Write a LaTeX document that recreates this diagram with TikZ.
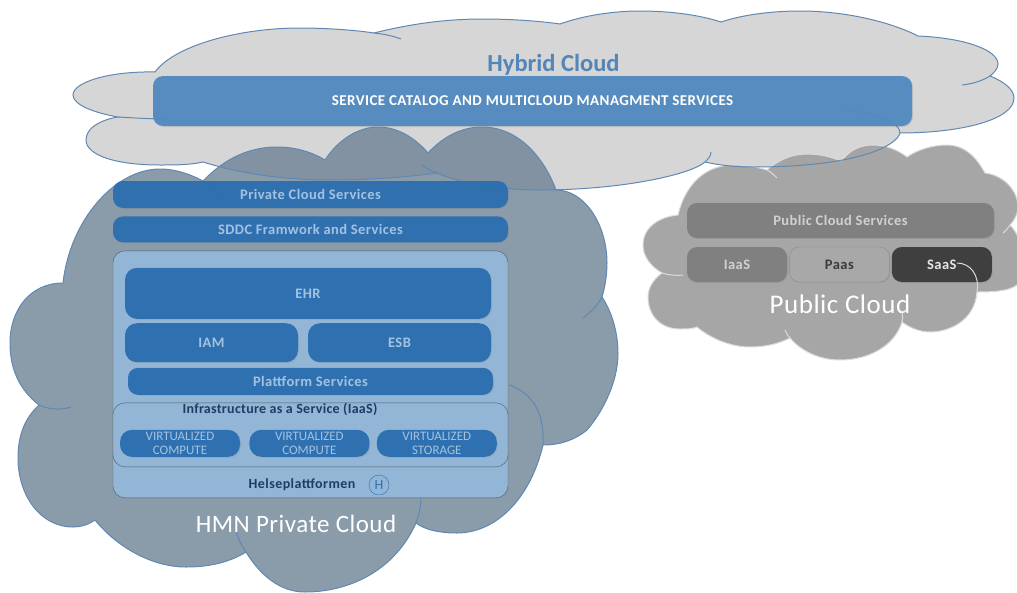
\documentclass[tikz,border=0pt]{standalone}
\usepackage{fontspec}
\setmainfont{Carlito}
\usepackage{tikz}
\usetikzlibrary{positioning,shadows}
\definecolor{hybridfill}{HTML}{d6d6d6}
\definecolor{hybridbar}{HTML}{528abf}
\definecolor{hybridtext}{HTML}{5385b8}
\definecolor{cloudline}{HTML}{5f89b2}
\definecolor{privatefill}{HTML}{6d8295}
\definecolor{privatebar}{HTML}{2c6fb0}
\definecolor{privatetext}{HTML}{a3c2e2}
\definecolor{panel}{HTML}{94b6d6}
\definecolor{paneltext}{HTML}{1f3d63}
\definecolor{publicfill}{HTML}{a3a3a3}
\definecolor{publicline}{HTML}{dcdcdc}
\definecolor{iaasbar}{HTML}{7f7f7f}
\definecolor{paasbar}{HTML}{a9a9a9}
\definecolor{saasbar}{HTML}{3c3c3c}
\newcommand{\spaced}[1]{\addfontfeature{LetterSpace=#1}}
% cloud outlines, in pixels of the picture
\def\hybridoutline{(155,72) .. controls (175,45) and (240,28) .. (300,28) .. controls (325,28) and (355,30) .. (374,33)
  .. controls (410,24) and (445,19) .. (483,19) .. controls (510,19) and (540,21) .. (560,24)
  .. controls (585,15) and (615,11) .. (640,11) .. controls (670,11) and (700,15) .. (721,22)
  .. controls (745,14) and (775,11) .. (800,11) .. controls (850,11) and (895,24) .. (918,36)
  .. controls (965,38) and (998,50) .. (998,64) .. controls (998,68) and (995,72) .. (990,76)
  .. controls (1005,82) and (1014,90) .. (1014,98) .. controls (1014,120) and (960,133) .. (900,133)
  .. controls (897,145) and (860,167) .. (753,167) .. controls (735,167) and (718,165) .. (705,162)
  .. controls (690,175) and (620,190) .. (540,190) .. controls (505,190) and (465,185) .. (437,173)
  .. controls (400,178) and (365,180) .. (327,180) .. controls (280,180) and (235,172) .. (203,162)
  .. controls (190,165) and (175,165) .. (160,165) .. controls (115,165) and (86,155) .. (86,140)
  .. controls (86,128) and (100,120) .. (118,117) .. controls (95,113) and (73,105) .. (73,95)
  .. controls (73,82) and (110,71) .. (155,72) -- cycle}
\def\privateoutline{(63,283) .. controls (70,220) and (115,169) .. (160,169) .. controls (175,169) and (190,174) .. (203,181)
  .. controls (225,158) and (250,147) .. (277,147) .. controls (295,147) and (312,152) .. (325,160)
  .. controls (338,140) and (358,127) .. (378,127) .. controls (398,127) and (415,138) .. (428,153)
  .. controls (442,138) and (460,127) .. (482,127) .. controls (520,127) and (545,160) .. (556,190)
  .. controls (585,190) and (607,225) .. (607,263) .. controls (607,275) and (605,287) .. (602,297)
  .. controls (612,312) and (618,333) .. (618,353) .. controls (618,385) and (600,415) .. (587,430)
  .. controls (575,440) and (560,445) .. (543,445) .. controls (530,500) and (495,533) .. (457,533)
  .. controls (440,533) and (425,530) .. (416,523) .. controls (395,570) and (350,592) .. (305,592)
  .. controls (280,592) and (260,575) .. (246,552) .. controls (230,562) and (210,567) .. (186,567)
  .. controls (150,567) and (115,545) .. (95,520) .. controls (88,525) and (80,527) .. (73,527)
  .. controls (40,527) and (18,495) .. (18,458) .. controls (18,435) and (25,418) .. (39,405)
  .. controls (20,390) and (10,370) .. (10,343) .. controls (10,310) and (30,283) .. (63,283) -- cycle}
\def\publicoutline{(678,215) .. controls (685,185) and (705,165) .. (733,165) .. controls (745,165) and (757,167) .. (767,170)
  .. controls (778,160) and (792,154) .. (807,154) .. controls (820,154) and (832,157) .. (841,161)
  .. controls (850,150) and (860,145) .. (873,145) .. controls (886,145) and (898,150) .. (907,157)
  .. controls (917,150) and (932,145) .. (947,145) .. controls (965,145) and (977,158) .. (985,173)
  .. controls (1003,175) and (1018,190) .. (1018,207) .. controls (1018,213) and (1015,220) .. (1010,225)
  .. controls (1020,235) and (1030,260) .. (1017,285) .. controls (1010,290) and (1000,292) .. (977,292)
  .. controls (975,320) and (950,332) .. (930,332) .. controls (920,332) and (910,328) .. (902,322)
  .. controls (895,345) and (870,360) .. (840,360) .. controls (818,360) and (800,350) .. (790,338)
  .. controls (778,344) and (765,347) .. (750,347) .. controls (730,347) and (710,338) .. (697,327)
  .. controls (692,329) and (686,329) .. (680,329) .. controls (660,329) and (648,315) .. (648,297)
  .. controls (648,287) and (654,279) .. (662,273) .. controls (650,266) and (643,256) .. (643,245)
  .. controls (643,228) and (658,217) .. (678,215) -- cycle}
\begin{document}
\begin{tikzpicture}[x=1pt,y=-1pt,font=\bfseries]
    \tikzstyle{box}=[rounded corners=10pt, inner sep=0pt, align=center, fill opacity=.96, text opacity=1, drop shadow={opacity=.22,shadow xshift=1pt,shadow yshift=-1pt}]
    \tikzstyle{hybridbox}=[box, fill=hybridbar, text=white, font=\bfseries\fontsize{15}{17}\selectfont\spaced{3}]
    \tikzstyle{privatebox}=[box, fill=privatebar, text=privatetext, font=\bfseries\fontsize{14.5}{16}\selectfont\spaced{3}]
    \tikzstyle{virtbox}=[box, fill=privatebar, text=privatetext, rounded corners=12pt, minimum width=120pt, minimum height=27pt, font=\fontsize{13}{14.5}\selectfont]
    \tikzstyle{panelbox}=[rounded corners=12pt, inner sep=0pt, fill=panel, draw=privatefill!70!black, thin]
    \tikzstyle{panellabel}=[inner sep=0pt, text=paneltext, font=\bfseries\fontsize{14}{16}\selectfont\spaced{3}]
    \tikzstyle{publicbox}=[box, text=publicfill!50!white, minimum height=35pt, font=\bfseries\fontsize{14.5}{16}\selectfont\spaced{3}]
    \tikzstyle{title}=[inner sep=0pt, text=white, font=\fontsize{25}{28}\selectfont\spaced{2}]
    \tikzstyle{cloud line}=[draw=cloudline, line width=1pt]
    \tikzstyle{public line}=[draw=publicline, line width=1pt]
    \useasboundingbox (0,0) rectangle (1017,592);

    % Clouds
    \fill[hybridfill] \hybridoutline;
    \fill[publicfill, opacity=.97] \publicoutline;
    \fill[privatefill, fill opacity=.8] \privateoutline;
    \draw[public line] \publicoutline;
    \draw[cloud line] \hybridoutline;
    \draw[cloud line] \privateoutline;

    % overhanging lobe ends
    \draw[cloud line] (374,33) .. controls (384,34) and (393,36) .. (401,39);
    \draw[cloud line] (990,76) .. controls (982,81) and (972,84) .. (962,85);
    \draw[cloud line] (705,162) .. controls (708,159) and (711,156) .. (711,152);
    \draw[cloud line] (437,173) .. controls (431,171) and (426,168) .. (422,165);
    \draw[cloud line] (118,117) .. controls (135,118) and (152,119) .. (168,119);
    \draw[cloud line] (845,110) .. controls (875,113) and (900,122) .. (900,133);
    \draw[cloud line] (203,181) .. controls (210,186) and (216,192) .. (221,198);
    \draw[cloud line] (602,297) .. controls (597,306) and (591,312) .. (583,318);
    \draw[cloud line] (509,385) .. controls (530,392) and (545,410) .. (543,445);
    \draw[cloud line] (416,523) .. controls (419,515) and (421,506) .. (421,497);
    \draw[cloud line] (246,552) .. controls (241,545) and (238,538) .. (236,530);
    \draw[cloud line] (39,405) .. controls (50,410) and (62,410) .. (71,407);
    \draw[public line] (767,170) .. controls (771,172) and (774,175) .. (777,178);
    \draw[public line] (1010,225) .. controls (1008,228) and (1006,231) .. (1003,233);
    \draw[public line] (902,322) .. controls (903,319) and (903,316) .. (902,313);
    \draw[public line] (790,338) .. controls (788,336) and (786,333) .. (785,330);
    \draw[public line] (662,273) .. controls (669,275) and (676,276) .. (683,275);

    % Hybrid
    \node[title, text=hybridtext, font=\bfseries\fontsize{24.5}{28}\selectfont] (hybrid) at (553.5,65) {Hybrid Cloud};
    \node[hybridbox, minimum width=759pt, minimum height=50pt] (catalog) at (532.5,101) {SERVICE CATALOG AND MULTICLOUD MANAGMENT SERVICES};

    % Private
    \node[privatebox, minimum width=395pt, minimum height=27pt] (privateservices) at (310.5,194.5) {Private Cloud Services};
    \node[privatebox, minimum width=395pt, minimum height=26pt, below=8pt of privateservices] (sddc) {SDDC Framwork and Services};
    \node[panelbox, minimum width=395pt, minimum height=247pt, below=8pt of sddc] (helseplattform) {};
    \node[privatebox, rounded corners=12pt, minimum width=366pt, minimum height=51pt, below right=17pt and 12pt of helseplattform.north west] (ehr) {EHR};
    \node[privatebox, rounded corners=12pt, minimum width=173pt, minimum height=39pt, below right=4pt and 0pt of ehr.south west] (iam) {IAM};
    \node[privatebox, rounded corners=12pt, minimum width=183pt, minimum height=39pt, below left=4pt and 0pt of ehr.south east] (esb) {ESB};
    \node[privatebox, minimum width=365pt, minimum height=27pt, below right=117pt and 15pt of helseplattform.north west] (plattform) {Plattform Services};
    \node[panelbox, minimum width=395pt, minimum height=64pt, below=152pt of helseplattform.north] (iaas) {};
    \node[panellabel, font=\bfseries\fontsize{14}{16}\selectfont\spaced{2}] (iaastitle) at (280,409) {Infrastructure as a Service (IaaS)};
    \node[virtbox, below right=27pt and 7pt of iaas.north west] (compute1) {VIRTUALIZED\\COMPUTE};
    \node[virtbox, right=9pt of compute1] (compute2) {VIRTUALIZED\\COMPUTE};
    \node[virtbox, right=7pt of compute2] (storage) {VIRTUALIZED\\STORAGE};
    \node[panellabel] (helse) at (302,485) {Helseplattformen};
    \node[circle, draw=privatebar, thin, inner sep=0pt, minimum size=20pt, text=privatebar, font=\fontsize{14}{16}\selectfont] (hlogo) at (379,485) {H};
    \node[title] (privatetitle) at (296,523.5) {HMN Private Cloud};

    % Public
    \node[publicbox, fill=iaasbar, minimum width=307pt] (publicservices) at (840.5,220.5) {Public Cloud Services};
    \node[publicbox, fill=iaasbar, minimum width=100pt] (publiciaas) at (737,264.5) {IaaS};
    \node[publicbox, fill=paasbar, draw=iaasbar!70!paasbar, thin, text=saasbar, minimum width=100pt, right=2pt of publiciaas] (paas) {Paas};
    \node[publicbox, fill=saasbar, text=white!90!black, minimum width=100pt, right=2pt of paas] (saas) {SaaS};
    \node[title, font=\fontsize{27}{30}\selectfont\spaced{2}] (publictitle) at (840,304) {Public Cloud};

    \draw[public line] (977,292) .. controls (980,275) and (970,263) .. (957,263);
\end{tikzpicture}
\end{document}
